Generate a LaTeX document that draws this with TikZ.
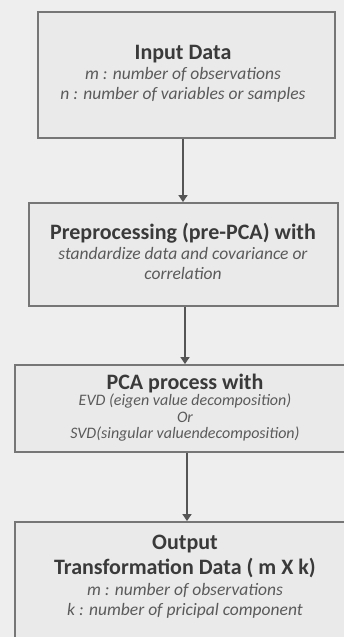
\documentclass[tikz,border=0pt]{standalone}
\usepackage{fontspec}
\setmainfont{Carlito}
\usetikzlibrary{arrows.meta}
\definecolor{bgc}{HTML}{EEEEEF}
\definecolor{boxfill}{HTML}{EAEAEA}
\definecolor{boxline}{HTML}{767676}
\definecolor{titlec}{HTML}{3A3A3A}
\definecolor{subc}{HTML}{5A5A5A}
\definecolor{arrc}{HTML}{555555}
\tikzset{
  stagebox/.style={draw=boxline, line width=1.8pt, fill=boxfill, inner sep=0pt},
  ttl/.style={anchor=mid, text=titlec, font=\fontsize{22}{26}\selectfont\bfseries, inner sep=0pt},
  sub/.style={anchor=mid, text=subc, font=\fontsize{17.5}{20}\selectfont\itshape, inner sep=0pt},
  subsmall/.style={sub, font=\fontsize{16}{18}\selectfont\itshape},
  arr/.style={draw=arrc, line width=1.4pt, -{Triangle[width=9pt,length=7pt]}}
}
\begin{document}
\begin{tikzpicture}[x=1pt,y=-1pt]
\useasboundingbox (0,0) rectangle (344,637);
\fill[bgc] (0,0) rectangle (344,637);
\clip (0,0) rectangle (344,637);
% boxes
\node[stagebox, minimum width=297pt, minimum height=126pt] (b1) at (186.5,75) {};
\node[stagebox, minimum width=309pt, minimum height=103pt] (b2) at (183.5,254.5) {};
\node[stagebox, minimum width=345pt, minimum height=87pt] (b3) at (187.5,408.5) {};
\node[stagebox, minimum width=345pt, minimum height=138pt] (b4) at (187.5,591) {};
% box 1 text
\node[ttl] (t1) at (183,57) {Input Data};
\node[sub] (s11) at (183,77) {m : number of observations};
\node[sub] (s12) at (183,97) {n : number of variables or samples};
% box 2 text
\node[ttl] (t2) at (183,237) {Preprocessing (pre-PCA) with};
\node[sub] (s21) at (183,257) {standardize data and covariance or};
\node[sub] (s22) at (183,277) {correlation};
% box 3 text
\node[ttl] (t3) at (185,387) {PCA process with};
\node[subsmall] (s31) at (185,403) {EVD (eigen value decomposition)};
\node[subsmall] (s32) at (185,420) {Or};
\node[subsmall] (s33) at (185,436) {SVD(singular valuendecomposition)};
% box 4 text
\node[ttl] (t4) at (185,547) {Output};
\node[ttl] (t5) at (185,572) {Transformation Data ( m X k)};
\node[sub] (s41) at (185,593) {m : number of observations};
\node[sub] (s42) at (185,613) {k : number of pricipal component};
% arrow columns
\coordinate (c1) at (183,0);
\coordinate (c2) at (185,0);
\coordinate (c3) at (187,0);
\draw[arr] (b1.south -| c1) -- (b2.north -| c1);
\draw[arr] (b2.south -| c2) -- (b3.north -| c2);
\draw[arr] (b3.south -| c3) -- (b4.north -| c3);
\end{tikzpicture}
\end{document}
